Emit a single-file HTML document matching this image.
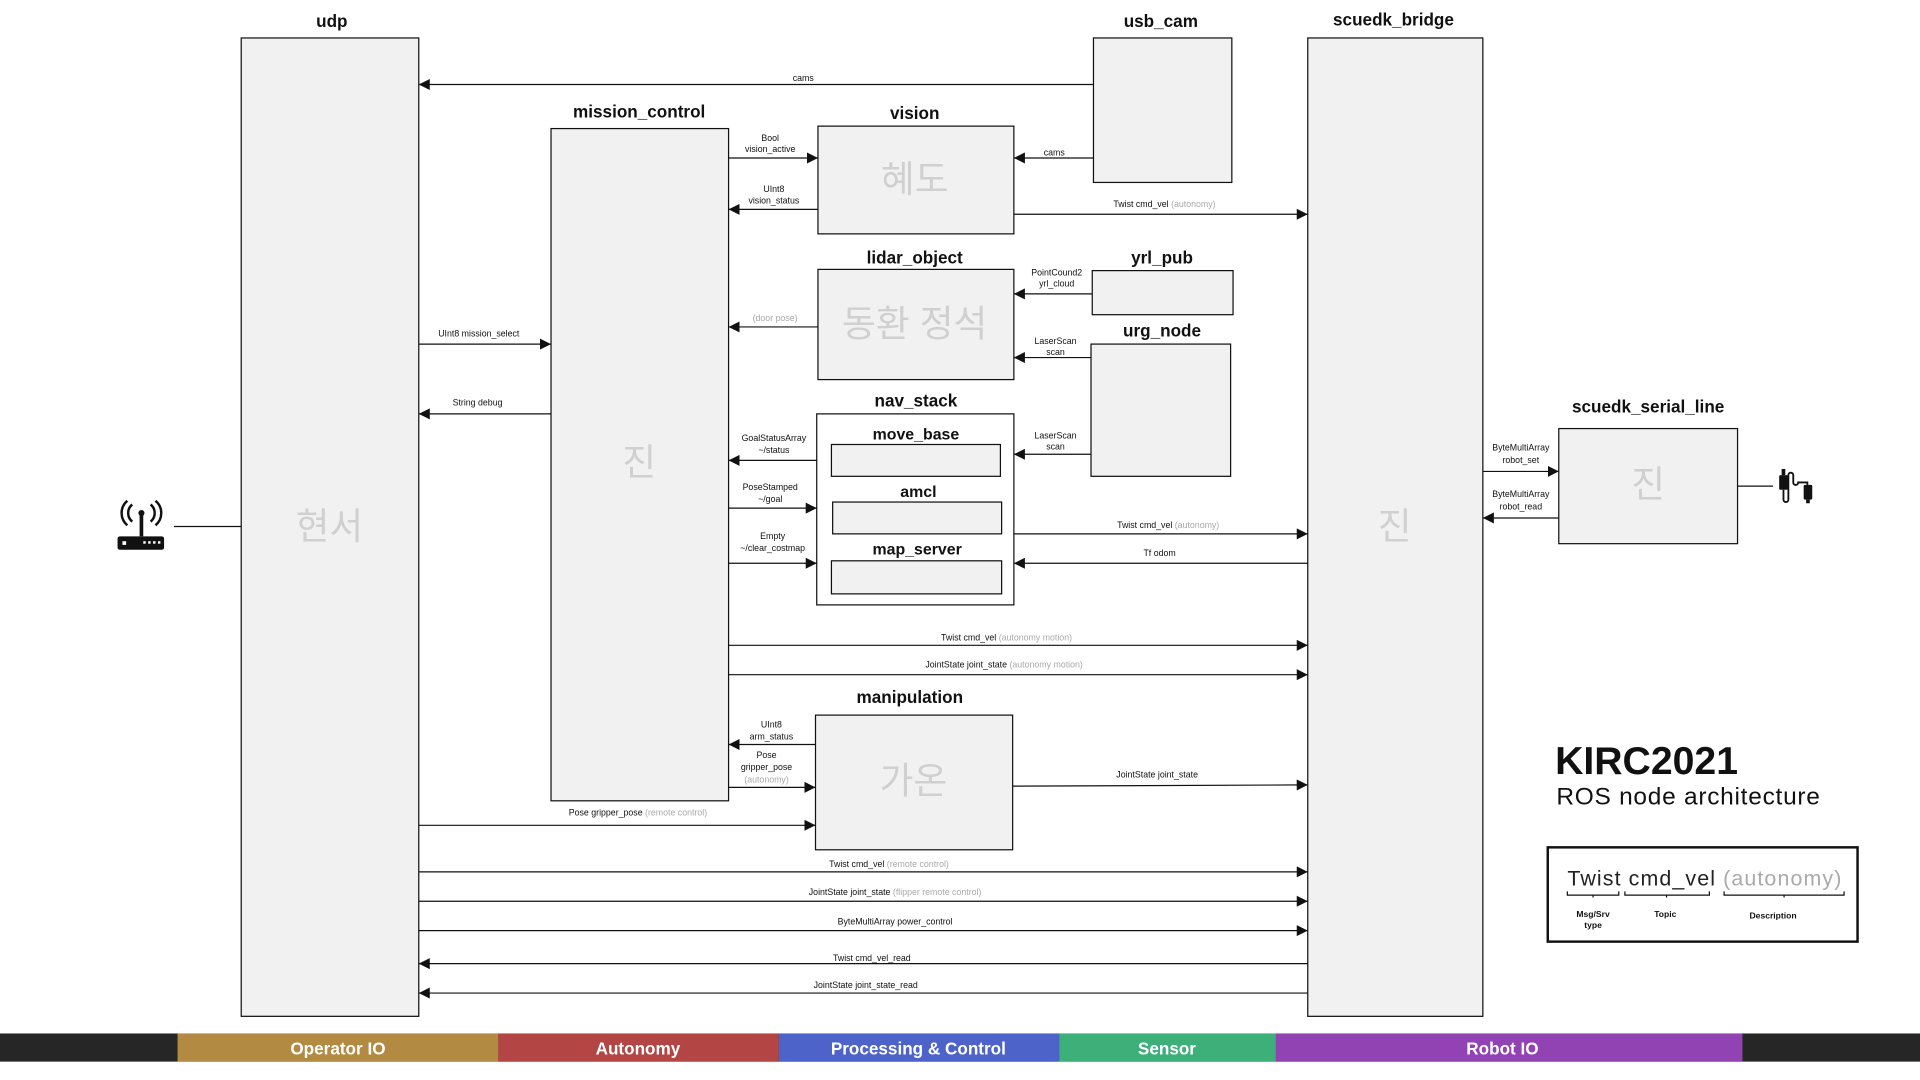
<!DOCTYPE html>
<html><head><meta charset="utf-8"><style>
html,body{margin:0;padding:0;background:#fff;}
svg{display:block;}
text{font-family:"Liberation Sans","Noto Sans CJK KR",sans-serif;}
.t{font-size:14px;font-weight:bold;text-anchor:middle;fill:#111;}
.l{font-size:7.2px;text-anchor:middle;fill:#111;}
.g{fill:#aaa;}
.k{font-size:30px;fill:#d0d0d0;text-anchor:middle;}
.b{fill:#f1f1f1;stroke:#111;stroke-width:1;}
.ln{stroke:#111;stroke-width:1;fill:none;}
.bar{font-size:14px;font-weight:600;fill:#fff;text-anchor:middle;}
</style></head><body>
<svg width="1920" height="1080" viewBox="0 0 1568 882" xmlns="http://www.w3.org/2000/svg">
<defs>
<marker id="a" viewBox="0 0 10 10" refX="10" refY="5" markerWidth="9" markerHeight="9" markerUnits="userSpaceOnUse" orient="auto"><path d="M0,0L10,5L0,10z" fill="#111"/></marker>
</defs>
<rect width="1568" height="882" fill="#fff"/>
<rect class="b" x="197" y="31" width="145" height="799"/><text class="t" x="271" y="22">udp</text><text class="k" x="269" y="440">현서</text>
<rect class="b" x="450" y="105" width="145" height="549"/><text class="t" x="522" y="96">mission_control</text><text class="k" x="522" y="388">진</text>
<rect class="b" x="668" y="103" width="160" height="88"/><text class="t" x="747" y="97">vision</text><text class="k" x="747" y="157">혜도</text>
<rect class="b" x="893" y="31" width="113" height="118"/><text class="t" x="948" y="22">usb_cam</text>
<rect class="b" x="1068" y="31" width="143" height="799"/><text class="t" x="1138" y="21">scuedk_bridge</text><text class="k" x="1139" y="440">진</text>
<rect class="b" x="668" y="220" width="160" height="90"/><text class="t" x="747" y="215">lidar_object</text><text class="k" x="747" y="275">동환 정석</text>
<rect class="b" x="892" y="221" width="115" height="36"/><text class="t" x="949" y="215">yrl_pub</text>
<rect class="b" x="891" y="281" width="114" height="108"/><text class="t" x="949" y="275">urg_node</text>
<rect x="667" y="338" width="161" height="156" fill="#fff" stroke="#111"/><text class="t" x="748" y="332">nav_stack</text>
<text class="t" x="748" y="359" style="font-size:13px">move_base</text><rect class="b" x="679" y="363" width="138" height="26"/>
<text class="t" x="750" y="406" style="font-size:13px">amcl</text><rect class="b" x="680" y="410" width="138" height="26"/>
<text class="t" x="749" y="453" style="font-size:13px">map_server</text><rect class="b" x="679" y="458" width="139" height="27"/>
<rect class="b" x="666" y="584" width="161" height="110"/><text class="t" x="743" y="574">manipulation</text><text class="k" x="746" y="648">가온</text>
<rect class="b" x="1273" y="350" width="146" height="94"/><text class="t" x="1346" y="337">scuedk_serial_line</text><text class="k" x="1346" y="406">진</text>
<line class="ln" x1="142" y1="430" x2="197" y2="430"/>
<g fill="#111"><rect x="96" y="438" width="38" height="11" rx="2"/>
<rect x="114" y="420" width="3" height="18"/><circle cx="115.5" cy="419" r="2.5"/>
<path d="M108,412 a9,9 0 0 0 0,14" stroke="#111" stroke-width="2" fill="none"/><path d="M123,412 a9,9 0 0 1 0,14" stroke="#111" stroke-width="2" fill="none"/>
<path d="M104,409 a13,13 0 0 0 0,20" stroke="#111" stroke-width="2" fill="none"/><path d="M127,409 a13,13 0 0 1 0,20" stroke="#111" stroke-width="2" fill="none"/></g>
<g fill="#fff"><rect x="100" y="442" width="3" height="3"/><rect x="117" y="442" width="2" height="2"/><rect x="121" y="442" width="2" height="2"/><rect x="125" y="442" width="2" height="2"/><rect x="129" y="442" width="2" height="2"/></g>
<line class="ln" x1="1419" y1="397" x2="1448" y2="397"/>
<g fill="#111"><rect x="1453" y="388" width="7" height="12" rx="1"/><rect x="1455" y="383" width="3" height="5"/><rect x="1473" y="396" width="7" height="12" rx="1"/><rect x="1475" y="408" width="3" height="3"/>
<path d="M1456.5,400 V408 a2,2 0 0 0 4,0 V388 a2,2 0 0 1 4,0 V394 a2,2 0 0 0 4,0 H1476 V396" stroke="#111" stroke-width="1.5" fill="none"/></g>
<g class="ln" marker-end="url(#a)">
<line x1="893" y1="69" x2="342" y2="69"/>
<line x1="595" y1="129" x2="668" y2="129"/>
<line x1="668" y1="171" x2="595" y2="171"/>
<line x1="893" y1="129" x2="828" y2="129"/>
<line x1="828" y1="175" x2="1068" y2="175"/>
<line x1="892" y1="240" x2="828" y2="240"/>
<line x1="668" y1="267" x2="595" y2="267"/>
<line x1="891" y1="292" x2="828" y2="292"/>
<line x1="342" y1="281" x2="450" y2="281"/>
<line x1="450" y1="338" x2="342" y2="338"/>
<line x1="667" y1="376" x2="595" y2="376"/>
<line x1="891" y1="371" x2="828" y2="371"/>
<line x1="595" y1="415" x2="667" y2="415"/>
<line x1="595" y1="460" x2="667" y2="460"/>
<line x1="828" y1="436" x2="1068" y2="436"/>
<line x1="1068" y1="460" x2="828" y2="460"/>
<line x1="595" y1="527" x2="1068" y2="527"/>
<line x1="595" y1="551" x2="1068" y2="551"/>
<line x1="666" y1="608" x2="595" y2="608"/>
<line x1="595" y1="643" x2="666" y2="643"/>
<line x1="827" y1="642" x2="1068" y2="641"/>
<line x1="342" y1="674" x2="666" y2="674"/>
<line x1="342" y1="712" x2="1068" y2="712"/>
<line x1="342" y1="736" x2="1068" y2="736"/>
<line x1="342" y1="760" x2="1068" y2="760"/>
<line x1="1068" y1="787" x2="342" y2="787"/>
<line x1="1068" y1="811" x2="342" y2="811"/>
<line x1="1211" y1="385" x2="1273" y2="385"/>
<line x1="1273" y1="423" x2="1211" y2="423"/>
</g>
<g class="l">
<text x="656" y="66">cams</text>
<text x="629" y="115">Bool</text><text x="629" y="124">vision_active</text>
<text x="632" y="157">UInt8</text><text x="632" y="166">vision_status</text>
<text x="861" y="127">cams</text>
<text x="951" y="169">Twist cmd_vel <tspan class="g">(autonomy)</tspan></text>
<text x="863" y="225">PointCound2</text><text x="863" y="234">yrl_cloud</text>
<text x="633" y="262" class="g">(door pose)</text>
<text x="862" y="281">LaserScan</text><text x="862" y="290">scan</text>
<text x="391" y="275">UInt8 mission_select</text>
<text x="390" y="331">String debug</text>
<text x="632" y="360">GoalStatusArray</text><text x="632" y="370">~/status</text>
<text x="862" y="358">LaserScan</text><text x="862" y="367">scan</text>
<text x="629" y="400">PoseStamped</text><text x="629" y="410">~/goal</text>
<text x="631" y="440">Empty</text><text x="631" y="450">~/clear_costmap</text>
<text x="954" y="431">Twist cmd_vel <tspan class="g">(autonomy)</tspan></text>
<text x="947" y="454">Tf odom</text>
<text x="822" y="523">Twist cmd_vel <tspan class="g">(autonomy motion)</tspan></text>
<text x="820" y="545">JointState joint_state <tspan class="g">(autonomy motion)</tspan></text>
<text x="630" y="594">UInt8</text><text x="630" y="604">arm_status</text>
<text x="626" y="619">Pose</text><text x="626" y="629">gripper_pose</text><text x="626" y="639" class="g">(autonomy)</text>
<text x="945" y="635">JointState joint_state</text>
<text x="521" y="666">Pose gripper_pose <tspan class="g">(remote control)</tspan></text>
<text x="726" y="708">Twist cmd_vel <tspan class="g">(remote control)</tspan></text>
<text x="731" y="731">JointState joint_state <tspan class="g">(flipper remote control)</tspan></text>
<text x="731" y="755">ByteMultiArray power_control</text>
<text x="712" y="785">Twist cmd_vel_read</text>
<text x="707" y="807">JointState joint_state_read</text>
<text x="1242" y="368">ByteMultiArray</text><text x="1242" y="378">robot_set</text>
<text x="1242" y="406">ByteMultiArray</text><text x="1242" y="416">robot_read</text>
</g>
<text x="1270" y="632" style="font-size:32px;font-weight:bold;fill:#111">KIRC2021</text>
<text x="1271" y="657" style="font-size:20px;letter-spacing:0.6px;fill:#111">ROS node architecture</text>
<rect x="1264" y="692" width="253" height="77" fill="#fff" stroke="#111" stroke-width="2"/>
<text x="1280" y="723" style="font-size:17.5px;letter-spacing:0.9px;fill:#222">Twist cmd_vel <tspan fill="#aaa">(autonomy)</tspan></text>
<g class="ln" stroke-width="0.8"><path d="M1280,728v3h42v-3M1301,731v2"/><path d="M1327,728v3h69v-3M1361,731v2"/><path d="M1408,728v3h98v-3M1457,731v2"/></g>
<g class="l" style="font-size:7px;font-weight:bold"><text x="1301" y="749">Msg/Srv</text><text x="1301" y="758">type</text><text x="1360" y="749">Topic</text><text x="1448" y="750">Description</text></g>
<rect x="0" y="844" width="1568" height="23" fill="#262626"/>
<rect x="145" y="844" width="262" height="23" fill="#b38a42"/>
<rect x="407" y="844" width="229" height="23" fill="#b34545"/>
<rect x="636" y="844" width="229" height="23" fill="#4d63c9"/>
<rect x="865" y="844" width="177" height="23" fill="#3db07a"/>
<rect x="1042" y="844" width="381" height="23" fill="#9142b3"/>
<text class="bar" x="276" y="861">Operator IO</text>
<text class="bar" x="521" y="861">Autonomy</text>
<text class="bar" x="750" y="861">Processing &amp; Control</text>
<text class="bar" x="953" y="861">Sensor</text>
<text class="bar" x="1227" y="861">Robot IO</text>
</svg>
</body></html>
